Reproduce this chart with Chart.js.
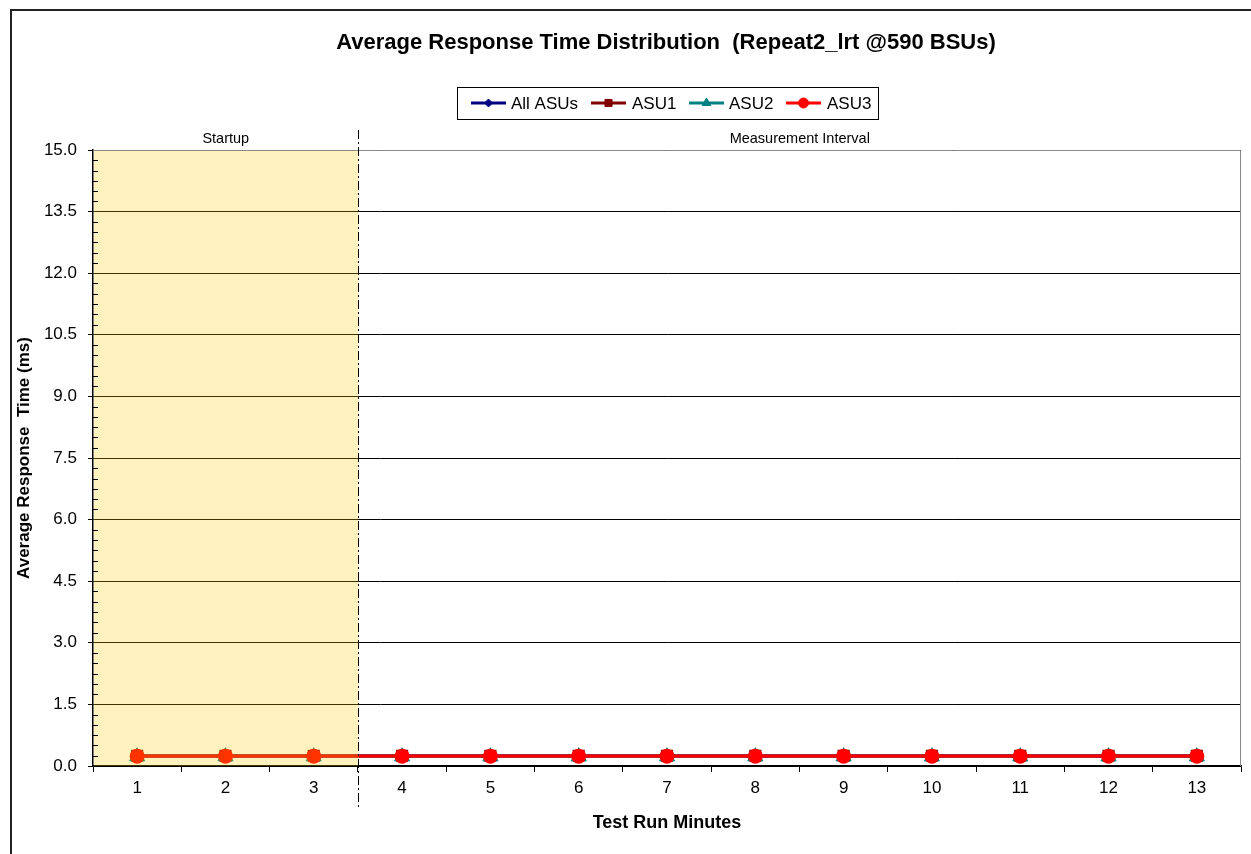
<!DOCTYPE html>
<html>
<head>
<meta charset="utf-8">
<script src="https://cdn.jsdelivr.net/npm/chart.js@4.4.1/dist/chart.umd.min.js"></script>
<style>
  html, body { margin: 0; padding: 0; background: #fff; }
  #wrap { position: relative; width: 1251px; height: 854px; }
  #frame { position: absolute; left: 10px; top: 9px; right: -5px; bottom: -5px; border-left: 2px solid #222; border-top: 2px solid #222; }
  canvas { position: absolute; left: 0; top: 0; }
</style>
</head>
<body>
<div id="wrap">
  <div id="frame"></div>
  <canvas id="chartLine" width="1251" height="854"></canvas>
</div>
<script>
const minutes = ["1", "2", "3", "4", "5", "6", "7", "8", "9", "10", "11", "12", "13"]
const allAsus = [0.24, 0.24, 0.24, 0.24, 0.24, 0.24, 0.24, 0.24, 0.24, 0.24, 0.24, 0.24, 0.24]
const asu1 = [0.25, 0.25, 0.25, 0.25, 0.25, 0.25, 0.25, 0.25, 0.25, 0.25, 0.25, 0.25, 0.25]
const asu2 = [0.23, 0.23, 0.23, 0.23, 0.23, 0.23, 0.23, 0.23, 0.23, 0.23, 0.23, 0.23, 0.23]
const asu3 = [0.24, 0.24, 0.24, 0.24, 0.24, 0.24, 0.24, 0.24, 0.24, 0.24, 0.24, 0.24, 0.24]
const startupCount = 3

const FONT = "'Liberation Sans', Arial, sans-serif"

function series(label, color, data, style, radius, order) {
  return {
    label: label,
    data: data,
    order: order,
    borderColor: color,
    backgroundColor: color,
    pointBackgroundColor: color,
    pointBorderColor: color,
    pointStyle: style,
    pointRadius: radius,
    pointHoverRadius: radius,
    borderWidth: 3,
    tension: 0
  }
}

// ASU3 ends up on top, as in the original
const datasets = [
  series("All ASUs", "#000080", allAsus, "rectRot", 5, 3),
  series("ASU1", "#800000", asu1, "rect", 6.5, 2),
  series("ASU2", "#008080", asu2, "triangle", 6.5, 1),
  series("ASU3", "#FF0000", asu3, "circle", 6, 0)
]

// title, legend box, startup shading, dash-dot divider, minor ticks, plot frame
const decor = {
  id: "decor",
  beforeDatasetsDraw(chart) {
    const { ctx, chartArea: a } = chart
    ctx.save()
    ctx.strokeStyle = "#888"
    ctx.lineWidth = 1
    ctx.beginPath()
    ctx.moveTo(a.left, a.top + 0.5)
    ctx.lineTo(a.right - 0.5, a.top + 0.5)
    ctx.lineTo(a.right - 0.5, a.bottom)
    ctx.stroke()
    ctx.restore()
  },
  afterDatasetsDraw(chart) {
    const { ctx, chartArea: a, scales } = chart
    const x = scales.x, y = scales.y
    const divX = Math.round((x.getPixelForValue(startupCount - 1) + x.getPixelForValue(startupCount)) / 2) + 0.5
    ctx.save()
    // translucent startup band over the lines
    ctx.fillStyle = "rgba(255, 204, 0, 0.25)"
    ctx.fillRect(a.left + 1, a.top + 1, divX - a.left - 1, a.bottom - a.top - 1)

    // divider
    ctx.strokeStyle = "#000"
    ctx.lineWidth = 1
    ctx.setLineDash([9, 3, 2, 3])
    ctx.beginPath()
    ctx.moveTo(divX, 130)
    ctx.lineTo(divX, 810)
    ctx.stroke()
    ctx.setLineDash([])

    // phase labels
    ctx.fillStyle = "#000"
    ctx.font = "14.5px " + FONT
    ctx.textAlign = "center"
    ctx.textBaseline = "middle"
    ctx.fillText("Startup", (a.left + divX) / 2, 139)
    ctx.fillText("Measurement Interval", (divX + a.right) / 2, 139)

    // minor ticks on y axis (inside)
    ctx.beginPath()
    for (let v = 0; v <= 15.001; v += 0.25) {
      if (Math.abs(v / 1.5 - Math.round(v / 1.5)) < 1e-6) continue
      const py = Math.round(y.getPixelForValue(v)) + 0.5
      ctx.moveTo(a.left, py)
      ctx.lineTo(a.left + 5, py)
    }
    ctx.stroke()

    // title
    ctx.font = "bold 22px " + FONT
    ctx.fillText("Average Response Time Distribution  (Repeat2_lrt @590 BSUs)", 666, 43)

    // legend
    ctx.strokeStyle = "#000"
    ctx.lineWidth = 1
    ctx.strokeRect(457.5, 87.5, 421, 32)
    const items = [[471, 511], [591, 632], [689, 729], [786, 827]]
    ctx.font = "17px " + FONT
    ctx.textAlign = "left"
    chart.data.datasets.forEach((ds, i) => {
      const [lx, tx] = items[i]
      ctx.strokeStyle = ds.borderColor
      ctx.fillStyle = ds.borderColor
      ctx.lineWidth = 3
      ctx.beginPath()
      ctx.moveTo(lx, 103)
      ctx.lineTo(lx + 35, 103)
      ctx.stroke()
      ctx.lineWidth = 1
      Chart.helpers.drawPoint(ctx, {
        pointStyle: ds.pointStyle,
        radius: ds.pointStyle === "rectRot" ? 4 : 5,
        borderWidth: 1,
        rotation: 0
      }, lx + 17.5, 103)
      ctx.fillStyle = "#000"
      ctx.fillText(ds.label, tx, 104)
    })
    ctx.restore()
  }
}

new Chart(document.getElementById("chartLine"), {
  type: "line",
  data: { labels: minutes, datasets: datasets },
  options: {
    responsive: false,
    animation: false,
    devicePixelRatio: 1,
    layout: { padding: { left: 10, top: 150, right: 10, bottom: 16 } },
    plugins: {
      legend: { display: false },
      title: { display: false },
      tooltip: { enabled: false }
    },
    scales: {
      x: {
        offset: true,
        afterFit: s => { s.height = 72 },
        grid: {
          offset: true,
          drawOnChartArea: false,
          color: "#000",
          tickLength: 6,
          tickColor: "#000"
        },
        border: { color: "#000", width: 1.5 },
        ticks: { color: "#000", padding: 6, font: { family: FONT, size: 17 } },
        title: {
          display: true,
          text: "Test Run Minutes",
          color: "#000",
          font: { family: FONT, size: 18, weight: "bold" }
        }
      },
      y: {
        min: 0,
        max: 15,
        afterFit: s => { s.width = 83 },
        afterBuildTicks: s => {
          s.ticks = []
          for (let i = 0; i <= 10; i++) s.ticks.push({ value: i * 1.5 })
        },
        grid: {
          color: "#000",
          tickLength: 5,
          tickColor: "#000"
        },
        border: { color: "#000", width: 1.5 },
        ticks: {
          color: "#000",
          padding: 11,
          font: { family: FONT, size: 17 },
          callback: v => v.toFixed(1)
        },
        title: {
          display: true,
          text: "Average Response  Time (ms)",
          color: "#000",
          font: { family: FONT, size: 17, weight: "bold" }
        }
      }
    }
  },
  plugins: [decor]
})
</script>
</body>
</html>
